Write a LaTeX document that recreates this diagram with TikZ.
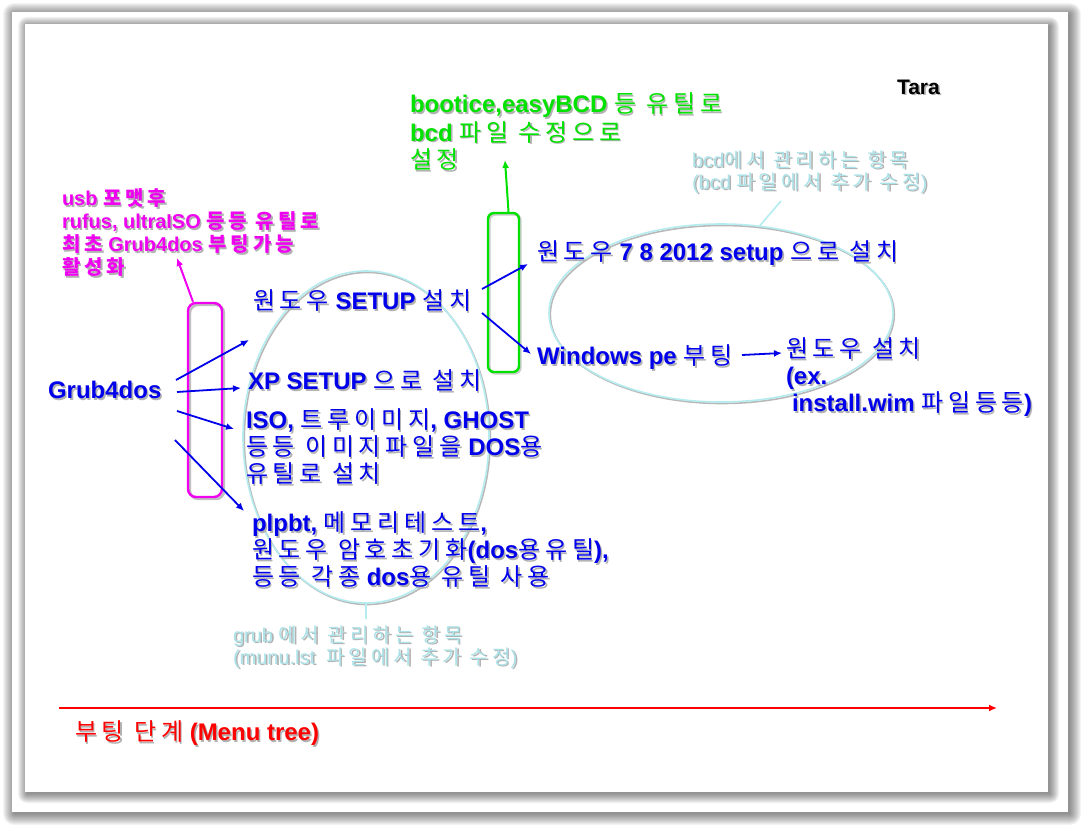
\documentclass[tikz,border=0pt]{standalone}
\usepackage{fontspec}
\setmainfont{Liberation Sans}
\newfontfamily\kr[Scale=1.0,LetterSpace=20]{Noto Sans CJK KR}
\usetikzlibrary{shapes.geometric,arrows.meta,calc}
\definecolor{tblue}{RGB}{0,0,235}
\definecolor{tgreen}{RGB}{0,225,0}
\definecolor{tmag}{RGB}{240,0,240}
\definecolor{tred}{RGB}{255,0,0}
\definecolor{pale}{RGB}{170,226,232}
\definecolor{ecyan}{RGB}{180,236,240}
\newcommand\K[1]{{\kr\mdseries #1}}
\newcommand\KB[1]{{\kr\bfseries #1}}
\newcommand\stxt[4]{%
  \node[#3,txtshadow] at ([shift={(1.6,1.6)}]#2) {#4};
  \node[#3] (#1) at (#2) {#4};}
\tikzset{
  lbl/.style={anchor=west, inner sep=0pt, outer sep=0pt, align=left},
  txtshadow/.style={text=black!30},
  bluet/.style={lbl, text=tblue, font=\bfseries\fontsize{24}{27}\selectfont},
  greent/.style={lbl, text=tgreen, font=\bfseries\fontsize{24}{28}\selectfont},
  magt/.style={lbl, text=tmag, font=\bfseries\fontsize{20}{23}\selectfont},
  palet/.style={lbl, text=pale, font=\fontsize{20}{22}\selectfont},
  redt/.style={lbl, text=tred, font=\bfseries\fontsize{24}{27}\selectfont},
  blackt/.style={lbl, text=black, font=\bfseries\fontsize{21}{25}\selectfont},
  barrow/.style={draw=tblue, line width=1.8pt, -{Latex[length=8pt,width=7pt]}},
  ringshape/.style={ellipse, inner sep=0pt, line width=1.6pt},
  boxshape/.style={rectangle, inner sep=0pt, line width=2.4pt},
}
\begin{document}
\begin{tikzpicture}[x=1pt,y=-1pt]
\useasboundingbox (0,0) rectangle (1088,832);
\fill[white] (0,0) rectangle (1088,832);
% outer page with soft shadow
\foreach \i in {0,...,11}
  \fill[black,opacity=0.045,rounded corners=\i pt] (14-\i,14-\i) rectangle (1070+\i,814+\i);
\fill[white] (12,12) rectangle (1068,812);
% inner slide with soft shadow
\foreach \i in {0,...,9}
  \fill[black,opacity=0.05,rounded corners=\i pt] (27-\i,26-\i) rectangle (1050+\i,794+\i);
\fill[white] (25,24) rectangle (1048,792);

% ellipses
\node[ringshape, draw=black!28, minimum width=246pt, minimum height=332pt] at (367.3,438.5) {};
\node[ringshape, draw=ecyan, minimum width=246pt, minimum height=332pt] (lell) at (366,437) {};
\node[ringshape, draw=black!28, minimum width=344pt, minimum height=178pt] at (722.3,314.5) {};
\node[ringshape, draw=ecyan, minimum width=344pt, minimum height=178pt] (rell) at (721,313) {};

% boxes
\node[boxshape, draw=black!25, rounded corners=8pt, minimum width=34pt, minimum height=194pt] at (207,402) {};
\node[boxshape, draw=tmag, rounded corners=8pt, minimum width=34pt, minimum height=194pt] (mbox) at (205,400) {};
\node[boxshape, draw=black!20, rounded corners=6pt, minimum width=31pt, minimum height=159pt] at (505,294) {};
\node[boxshape, draw=tgreen, rounded corners=6pt, minimum width=31pt, minimum height=159pt] (gbox) at (503.5,292.5) {};

% texts
\stxt{tara}{897,87}{blackt}{Tara}
\stxt{grn}{410,132}{greent}{bootice,easyBCD \K{등 유틸로}\\bcd \K{파일 수정으로}\\\K{설정}}
\stxt{bcdnote}{692,172}{palet}{bcd\K{에서 관리하는 항목}\\(bcd \K{파일에서 추가 수정})}
\stxt{mag}{62,233}{magt}{usb \KB{포맷후}\\rufus, ultraISO \KB{등등 유틸로}\\\KB{최초} Grub4dos \KB{부팅가능}\\\KB{활성화}}
\stxt{setup}{253,301}{bluet}{\K{원도우} SETUP \K{설치}}
\stxt{w7}{537,253}{bluet}{\K{원도우} 7 8 2012 setup \K{으로 설치}}
\stxt{xp}{248,381}{bluet}{XP SETUP \K{으로 설치}}
\stxt{g4d}{48,390}{bluet}{Grub4dos}
\stxt{wpe}{537,357}{bluet}{Windows pe \K{부팅}}
\stxt{wins}{786,377}{bluet}{\K{원도우 설치}\\(ex.\\ \hspace*{6pt}install.wim \K{파일등등})}
\stxt{iso}{246,447}{bluet}{ISO, \K{트루이미지}, GHOST\\\K{등등 이미지파일을} DOS\K{용}\\\K{유틸로 설치}}
\stxt{plp}{252,550}{bluet}{plpbt, \K{메모리테스트},\\\K{원도우 암호초기화}(dos\K{용유틸}),\\\K{등등 각종} dos\K{용 유틸 사용}}
\stxt{grubnote}{233,647}{palet}{grub \K{에서 관리하는 항목}\\(munu.lst\ \ \K{파일에서 추가 수정})}
\stxt{stage}{75,733}{redt}{\K{부팅 단계} (Menu tree)}

% connector coordinates
\coordinate (gtip) at (505,160);
\coordinate (mtip) at (177,258);
\coordinate (lcall) at (366,619);
\coordinate (rcall) at (781,201);
\coordinate (a1s) at (176,380); \coordinate (a1e) at (249,340);
\coordinate (a2s) at (177,392); \coordinate (a2e) at (241,388);
\coordinate (a3s) at (177,411); \coordinate (a3e) at (234,429);
\coordinate (a4s) at (175,440); \coordinate (a4e) at (244,511);
\coordinate (a5s) at (482,289); \coordinate (a5e) at (528,264);
\coordinate (a6s) at (482,313); \coordinate (a6e) at (531,354);
\coordinate (a7s) at (742,355); \coordinate (a7e) at (782,353);
\coordinate (rs) at (59,708); \coordinate (re) at (997,708);

% connectors
\draw[draw=tgreen, line width=2pt, -{Latex[length=8pt,width=7pt]}] ([xshift=5pt]gbox.north) -- (gtip);
\draw[draw=tmag, line width=2pt, -{Latex[length=8pt,width=7pt]}] ([xshift=-12pt]mbox.north) -- (mtip);
\draw[draw=ecyan, line width=1.6pt] (lell.south) -- (lcall);
\draw[draw=ecyan, line width=1.6pt] (rell.66) -- (rcall);
\draw[barrow] (a1s) -- (a1e);
\draw[barrow] (a2s) -- (a2e);
\draw[barrow] (a3s) -- (a3e);
\draw[barrow] (a4s) -- (a4e);
\draw[barrow] (a5s) -- (a5e);
\draw[barrow] (a6s) -- (a6e);
\draw[barrow] (a7s) -- (a7e);
\draw[draw=tred, line width=2pt, -{Latex[length=8pt,width=7pt]}] (rs) -- (re);
\end{tikzpicture}
\end{document}
